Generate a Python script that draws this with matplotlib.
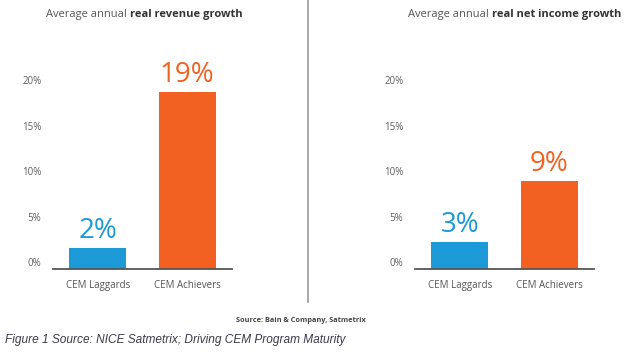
import matplotlib.pyplot as plt

# Data
categories = ['CEM Laggards', 'CEM Achievers']
revenue = [2.3, 19.5]
revenue_labels = ['2%', '19%']
income = [3.0, 9.7]
income_labels = ['3%', '9%']
yticks = [0, 5, 10, 15, 20]

blue = '#1b9ad7'
orange = '#f26122'
gray = '#5f5f5f'

plt.rcParams['font.family'] = 'Open Sans'

fig = plt.figure(figsize=(6.33, 3.54), dpi=100)
W, H = 633, 354


def panel(left_px, values, labels, title_a, title_b, title_x):
    ax = fig.add_axes([left_px / W, (H - 269) / H, 179 / W, 200 / H])
    ax.bar([0, 1], values, width=0.64, color=[blue, orange])
    ax.set_xlim(-0.5, 1.5)
    ax.set_ylim(0, 22)
    for s in ['top', 'right', 'left']:
        ax.spines[s].set_visible(False)
    ax.spines['bottom'].set_color('#555555')
    ax.spines['bottom'].set_linewidth(1.3)
    ax.set_yticks([])
    ax.set_xticks([0, 1])
    ax.set_xticklabels(categories, fontsize=7, color='#555555')
    ax.tick_params(axis='x', length=0, pad=8)
    for t in yticks:
        ax.text(-0.065, t, f'{t}%', transform=ax.get_yaxis_transform(),
                ha='right', va='bottom', fontsize=7, color=gray)
    for i, (v, lab) in enumerate(zip(values, labels)):
        ax.text(i, v + 0.3, lab, ha='center', va='bottom', fontsize=20,
                color=[blue, orange][i])
    # title with bold part
    fig.text(title_x / W, 1 - 15 / H, title_a, ha='right', va='center',
             fontsize=8, color='#555555')
    fig.text(title_x / W, 1 - 15 / H, title_b, ha='left', va='center',
             fontsize=8, color='#333333', fontweight='bold')
    return ax


panel(53, revenue, revenue_labels, 'Average annual ', 'real revenue growth', 130)
panel(415, income, income_labels, 'Average annual ', 'real net income growth', 492)

# divider
fig.add_artist(plt.Line2D([308 / W, 308 / W], [1, 1 - 302 / H], color='#9a9a9a', lw=1.2))

fig.text(366 / W, 1 - 321 / H, 'Source: Bain & Company, Satmetrix', ha='right', va='center',
         fontsize=5.3, fontweight='bold', color='#444444')
fig.text(5 / W, 1 - 340 / H, 'Figure 1 Source: NICE Satmetrix; Driving CEM Program Maturity',
         ha='left', va='center', fontsize=8.6, style='italic', color='#3a3a4a',
         family='Liberation Sans')

fig.savefig('out.png', dpi=100)
